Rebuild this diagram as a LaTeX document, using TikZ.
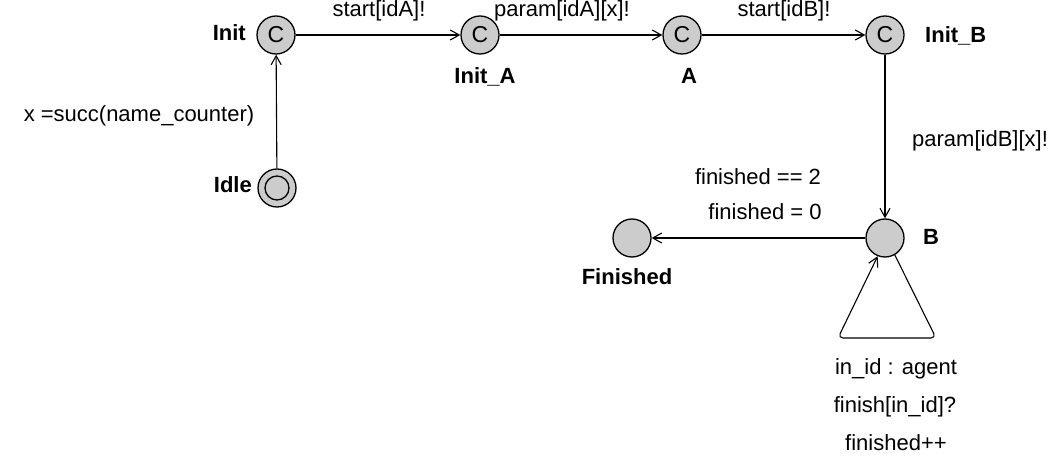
\documentclass[tikz,border=0pt]{standalone}
\usepackage{fontspec}
\setmainfont{Liberation Sans}
\usetikzlibrary{
    arrows.meta,
    calc,
}

\begin{document}
\begin{tikzpicture}[
        x=1pt, y=-1pt,
        >={Straight Barb[length=9pt, width=10pt, line width=1.1pt]},
        loc/.style={circle, draw=black, fill=black!20, line width=1.3pt, minimum size=38pt, inner sep=0pt},
        comm/.style={loc, font=\fontsize{23}{26}\selectfont},
        locname/.style={inner sep=0pt, font=\fontsize{22}{26}\selectfont\bfseries, text height=15pt, text depth=5pt},
        edgelabel/.style={inner sep=0pt, font=\fontsize{22}{26}\selectfont, text height=15pt, text depth=5pt},
        edge/.style={->, line width=1.1pt},
        ]
        \useasboundingbox (0,0) rectangle (1050,462);
        % locations
        \node[comm] (INIT)  at (276,35)  {C};
        \node[comm] (INITA) at (480,35)  {C};
        \node[comm] (A)     at (682,35)  {C};
        \node[comm] (INITB) at (885,35)  {C};
        \node[loc]  (IDLE)  at (277,188) {};
        \draw[line width=1.3pt] (IDLE.center) circle [radius=12];
        \node[loc]  (B)     at (885,238) {};
        \node[loc]  (FIN)   at (632,238) {};
        % location names
        \node[locname, anchor=east] (INITname)  at (246,36)  {Init};
        \node[locname, anchor=east] (IDLEname)  at (252,188) {Idle};
        \node[locname]              (INITAname) at (485,79)  {Init\_A};
        \node[locname]              (Aname)     at (689,79)  {A};
        \node[locname, anchor=west] (INITBname) at (925,38)  {Init\_B};
        \node[locname, anchor=west] (Bname)     at (923,240) {B};
        \node[locname]              (FINname)   at (627,280) {Finished};
        % edges
        \draw[edge] (IDLE) -- (INIT);
        \draw[edge] (INIT) -- (INITA);
        \draw[edge] (INITA) -- (A);
        \draw[edge] (A) -- (INITB);
        \draw[edge] (INITB) -- (B);
        \draw[edge] (B) -- (FIN);
        \coordinate (LOOPR) at (936,338);
        \coordinate (LOOPL) at (838,338);
        \draw[edge, rounded corners=5pt] (B.300) -- (LOOPR) -- (LOOPL) -- (B.248);
        % edge labels
        \node[edgelabel] (L1) at (379,12)  {start[idA]!};
        \node[edgelabel] (L2) at (562,12)  {param[idA][x]!};
        \node[edgelabel] (L3) at (784,12)  {start[idB]!};
        \node[edgelabel] (L4) at (139,117) {x =succ(name\_counter)};
        \node[edgelabel, anchor=west] (L5) at (912,142) {param[idB][x]!};
        \node[edgelabel] (L6) at (758,180) {finished == 2};
        \node[edgelabel] (L7) at (765,215) {finished = 0};
        \node[edgelabel] (L8) at (896,369) {in\_id : agent};
        \node[edgelabel] (L9) at (895,408) {finish[in\_id]?};
        \node[edgelabel] (L10) at (896,445) {finished++};
    \end{tikzpicture}
\end{document}
